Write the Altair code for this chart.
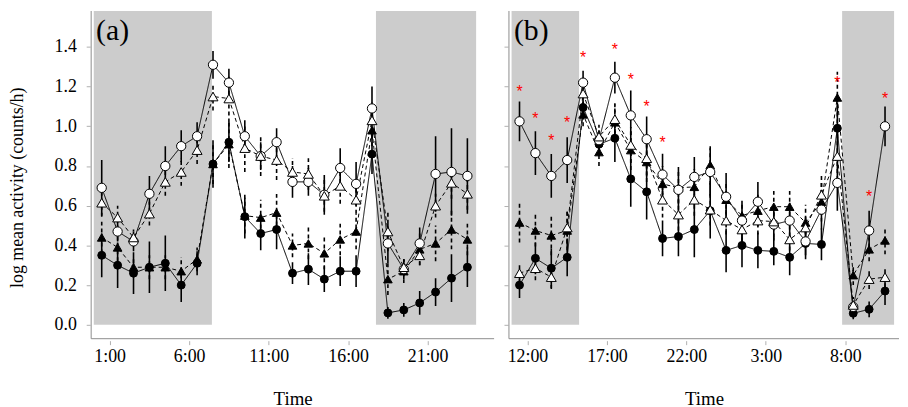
import altair as alt
import pandas as pd

# ---------------- data ----------------
SERIES = ["filled circle", "filled triangle", "open circle", "open triangle"]

# panel (a): hourly means, 0:30 ... 23:30
a_hours = [h + 0.5 for h in range(24)]
a_filled_circ = [0.35, 0.30, 0.26, 0.29, 0.31, 0.20, 0.31, 0.81, 0.92, 0.545, 0.46, 0.48,
                 0.26, 0.28, 0.23, 0.27, 0.27, 0.86, 0.06, 0.075, 0.11, 0.165, 0.235, 0.29]
a_filled_tri = [0.44, 0.39, 0.29, 0.29, 0.29, 0.27, 0.33, 0.81, 0.91, 0.55, 0.54, 0.565,
                0.40, 0.41, 0.36, 0.43, 0.47, 0.98, 0.23, 0.27, 0.38, 0.41, 0.48, 0.43]
a_open_circ = [0.69, 0.47, 0.42, 0.66, 0.80, 0.90, 0.95, 1.31, 1.22, 0.95, 0.85, 0.92,
               0.72, 0.72, 0.655, 0.79, 0.71, 1.09, 0.41, 0.28, 0.41, 0.76, 0.77, 0.75]
a_open_tri = [0.615, 0.54, 0.44, 0.56, 0.72, 0.77, 0.88, 1.15, 1.14, 0.89, 0.85, 0.83,
              0.77, 0.76, 0.65, 0.70, 0.63, 1.03, 0.47, 0.29, 0.35, 0.60, 0.715, 0.66]
a_filled_circ_err = [0.11, 0.115, 0.105, 0.13, 0.14, 0.085, 0.06, 0.12, 0.10, 0.11, 0.085, 0.10,
                     0.055, 0.08, 0.065, 0.075, 0.08, 0.10, 0.03, 0.035, 0.06, 0.07, 0.12, 0.10]
a_filled_tri_err = [0.08, 0.07, 0.05, 0.06, 0.06, 0.07, 0.06, 0.10, 0.12, 0.09, 0.09, 0.10,
                    0.06, 0.08, 0.08, 0.08, 0.09, 0.08, 0.08, 0.06, 0.08, 0.09, 0.10, 0.08]
a_open_circ_err = [0.14, 0.05, 0.05, 0.09, 0.10, 0.08, 0.07, 0.07, 0.07, 0.08, 0.07, 0.07,
                   0.08, 0.07, 0.10, 0.10, 0.11, 0.11, 0.10, 0.05, 0.08, 0.19, 0.22, 0.19]
a_open_tri_err = [0.07, 0.06, 0.04, 0.06, 0.07, 0.07, 0.07, 0.07, 0.12, 0.12, 0.10, 0.10,
                  0.07, 0.08, 0.08, 0.09, 0.07, 0.09, 0.10, 0.04, 0.05, 0.06, 0.08, 0.08]
a_dark_start = [0.0, 17.75]
a_dark_end = [7.43, 24.05]
a_tick_hours = [1, 6, 11, 16, 21]

# panel (b): hourly means, 11:30 ... 10:30 next day
b_hours = [h + 0.5 for h in range(11, 35)]
b_filled_circ = [0.20, 0.335, 0.285, 0.34, 1.095, 0.91, 0.94, 0.735, 0.67, 0.435, 0.445, 0.48,
                 0.575, 0.375, 0.40, 0.375, 0.37, 0.34, 0.41, 0.405, 0.99, 0.058, 0.078, 0.17]
b_filled_tri = [0.515, 0.475, 0.45, 0.475, 1.06, 0.87, 1.02, 0.88, 0.82, 0.71, 0.69, 0.695,
                0.805, 0.63, 0.55, 0.575, 0.595, 0.595, 0.515, 0.62, 1.145, 0.25, 0.38, 0.425]
b_open_circ = [1.025, 0.865, 0.75, 0.83, 1.22, 0.93, 1.245, 1.055, 0.935, 0.757, 0.68, 0.745,
               0.77, 0.645, 0.525, 0.62, 0.505, 0.525, 0.42, 0.58, 0.715, 0.09, 0.475, 1.0]
b_open_tri = [0.26, 0.285, 0.24, 0.49, 1.165, 0.948, 1.036, 0.906, 0.839, 0.63, 0.555, 0.63,
              0.58, 0.525, 0.48, 0.525, 0.52, 0.43, 0.49, 0.655, 0.85, 0.10, 0.23, 0.24]
b_filled_circ_err = [0.065, 0.08, 0.10, 0.095, 0.06, 0.06, 0.12, 0.14, 0.14, 0.09, 0.10, 0.14,
                     0.14, 0.11, 0.11, 0.09, 0.07, 0.09, 0.08, 0.08, 0.13, 0.03, 0.04, 0.07]
b_filled_tri_err = [0.10, 0.08, 0.10, 0.10, 0.06, 0.07, 0.09, 0.10, 0.10, 0.09, 0.08, 0.09,
                    0.10, 0.08, 0.07, 0.08, 0.08, 0.08, 0.09, 0.10, 0.13, 0.05, 0.06, 0.07]
b_open_circ_err = [0.10, 0.11, 0.11, 0.115, 0.06, 0.05, 0.08, 0.125, 0.115, 0.105, 0.115, 0.10,
                   0.12, 0.12, 0.10, 0.10, 0.08, 0.09, 0.07, 0.10, 0.14, 0.03, 0.10, 0.10]
b_open_tri_err = [0.05, 0.06, 0.06, 0.08, 0.06, 0.06, 0.08, 0.09, 0.09, 0.09, 0.08, 0.08,
                  0.08, 0.07, 0.06, 0.07, 0.08, 0.09, 0.07, 0.10, 0.12, 0.04, 0.05, 0.05]
b_dark_start = [11.0, 31.8]
b_dark_end = [15.25, 35.07]
b_tick_hours = [12, 17, 22, 27, 32]
b_star_hours = [11.5, 12.5, 13.5, 14.5, 15.5, 17.5, 18.5, 19.5, 20.5, 31.5, 33.5, 34.5]
b_star_vals = [1.19, 1.05, 0.94, 1.03, 1.36, 1.40, 1.25, 1.11, 0.93, 1.235, 0.66, 1.15]

y_ticks = [0.0, 0.2, 0.4, 0.6, 0.8, 1.0, 1.2, 1.4]

# ---------------- layout / style ----------------
FONT = "Liberation Serif"
Y_MIN, Y_MAX = -0.07, 1.581
H = 331
W_A, W_B = 407, 394
A_DOMAIN = [-0.164, 25.18]
B_DOMAIN = [10.835, 35.38]
AXIS_GRAY = "#8c8c8c"
TICK_GRAY = "#b0b0b0"


def long_table(hours, means, errs):
    rows = []
    for name, m, e in zip(SERIES, means, errs):
        for h, v, s in zip(hours, m, e):
            rows.append({"hour": h, "value": v, "lo": v - s, "hi": v + s, "series": name})
    return pd.DataFrame(rows)


shape_scale = alt.Scale(domain=SERIES, range=["circle", "triangle-up", "circle", "triangle-up"])
fill_scale = alt.Scale(domain=SERIES, range=["black", "black", "white", "white"])
dash_scale = alt.Scale(domain=SERIES, range=[[1, 0], [4, 3], [1, 0], [4, 3]])
size_scale = alt.Scale(domain=SERIES, range=[64, 100, 64, 100])


def panel(hours, means, errs, dark_s, dark_e, domain, width, ticks, label, first,
          stars=None):
    df = long_table(hours, means, errs)
    xaxis = alt.Axis(values=ticks, labelExpr="(datum.value % 24) + ':00'", title="Time",
                     grid=False, domain=False, tickSize=4, tickColor=TICK_GRAY, offset=2,
                     labelFont=FONT, labelFontSize=18, labelColor="black", labelPadding=3,
                     titleFont=FONT, titleFontSize=19, titleFontWeight="normal",
                     titleColor="black", titlePadding=24, labelFlush=False)
    if first:
        yaxis = alt.Axis(values=y_ticks, format=".1f", title="log mean activity (counts/h)",
                         grid=False, domain=False, tickSize=4, tickColor=TICK_GRAY, offset=1,
                         labelFont=FONT, labelFontSize=18, labelColor="black", labelPadding=10,
                         titleFont=FONT, titleFontSize=18, titleFontWeight="normal",
                         titleColor="black", titlePadding=28, titleY=178, labelFlush=False)
    else:
        yaxis = alt.Axis(values=y_ticks, labels=False, title=None, grid=False, domain=False,
                         tickSize=4, tickColor=TICK_GRAY, offset=1)
    xs = alt.Scale(domain=domain, nice=False, zero=False)
    ys = alt.Scale(domain=[Y_MIN, Y_MAX], nice=False, zero=False)

    dark = pd.DataFrame({"start": dark_s, "end": dark_e, "ylo": [0.0] * len(dark_s),
                         "yhi": [Y_MAX] * len(dark_s)})
    rects = alt.Chart(dark).mark_rect(color="#cccccc").encode(
        x=alt.X("start:Q", scale=xs, axis=xaxis), x2="end:Q",
        y=alt.Y("ylo:Q", scale=ys, axis=yaxis), y2="yhi:Q")

    base = alt.Chart(df)
    lines = base.mark_line(color="black", strokeWidth=1).encode(
        x=alt.X("hour:Q", scale=xs, axis=xaxis),
        y=alt.Y("value:Q", scale=ys, axis=yaxis),
        detail="series:N",
        strokeDash=alt.StrokeDash("series:N", scale=dash_scale, legend=None))
    bars = base.mark_rule(color="black", strokeWidth=1.6).encode(
        x=alt.X("hour:Q", scale=xs, axis=xaxis),
        y=alt.Y("lo:Q", scale=ys, axis=yaxis), y2="hi:Q",
        strokeDash=alt.StrokeDash("series:N", scale=dash_scale, legend=None))
    points = base.mark_point(filled=True, stroke="black", strokeWidth=1, opacity=1).encode(
        x=alt.X("hour:Q", scale=xs, axis=xaxis),
        y=alt.Y("value:Q", scale=ys, axis=yaxis),
        shape=alt.Shape("series:N", scale=shape_scale, legend=None),
        fill=alt.Fill("series:N", scale=fill_scale, legend=None),
        size=alt.Size("series:N", scale=size_scale, legend=None))

    one = pd.DataFrame({"k": [0]})
    yline = alt.Chart(one).mark_rule(color=AXIS_GRAY, strokeWidth=1).encode(
        x=alt.value(0), y=alt.value(0), y2=alt.value(H))
    xline = alt.Chart(one).mark_rule(color=AXIS_GRAY, strokeWidth=1).encode(
        x=alt.value(0), x2=alt.value(width), y=alt.value(H))
    lab = alt.Chart(pd.DataFrame({"t": [label]})).mark_text(
        font=FONT, fontSize=30, align="left", baseline="alphabetic", color="black").encode(
        x=alt.value(5), y=alt.value(29), text="t:N")

    layers = [rects, lines, bars, points]
    if stars is not None:
        sdf = pd.DataFrame({"hour": stars[0], "value": stars[1]})
        st = alt.Chart(sdf).mark_text(text="*", color="red", fontSize=16, dy=3,
                                      font="Liberation Sans").encode(
            x=alt.X("hour:Q", scale=xs, axis=xaxis),
            y=alt.Y("value:Q", scale=ys, axis=yaxis))
        layers.append(st)
    layers += [yline, xline, lab]
    return alt.layer(*layers).properties(width=width, height=H)


pa = panel(a_hours, [a_filled_circ, a_filled_tri, a_open_circ, a_open_tri],
           [a_filled_circ_err, a_filled_tri_err, a_open_circ_err, a_open_tri_err],
           a_dark_start, a_dark_end, A_DOMAIN, W_A, a_tick_hours, "(a)", True)
pb = panel(b_hours, [b_filled_circ, b_filled_tri, b_open_circ, b_open_tri],
           [b_filled_circ_err, b_filled_tri_err, b_open_circ_err, b_open_tri_err],
           b_dark_start, b_dark_end, B_DOMAIN, W_B, b_tick_hours, "(b)", False,
           stars=(b_star_hours, b_star_vals))

chart = alt.hconcat(pa, pb, spacing=8).resolve_scale(x="independent").properties(
    padding=0, background="white").configure_view(stroke=None)

chart.save("out.html", embed_options={"renderer": "svg", "actions": False})
